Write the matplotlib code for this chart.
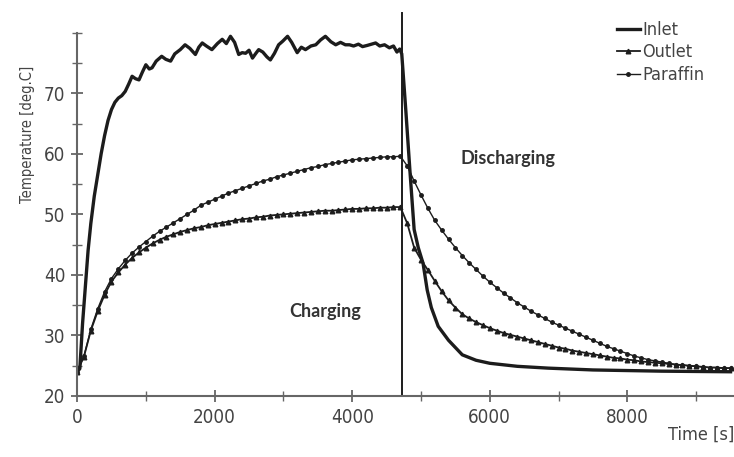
import numpy as np
import matplotlib.pyplot as plt
from matplotlib.ticker import MultipleLocator

# temps de bascule charge / decharge
t_switch = 4720

# entree (inlet) : mesure bruitee
t_inlet = [0, 40, 80, 120, 160, 200, 250, 300, 350, 400, 450, 500, 550, 600, 650,
           700, 750, 800, 850, 900, 950, 1000, 1050, 1090, 1150, 1230, 1290, 1360,
           1420, 1500, 1570, 1640, 1720, 1770, 1820, 1880, 1960, 2040, 2110, 2170,
           2230, 2290, 2350, 2400, 2450, 2500, 2550, 2600, 2640, 2700, 2760, 2810,
           2870, 2930, 2990, 3060, 3120, 3200, 3260, 3320, 3400, 3470, 3540, 3610,
           3690, 3760, 3830, 3900, 3960, 4020, 4090, 4150, 4220, 4280, 4340, 4400,
           4470, 4540, 4600, 4650, 4690, 4720,
           4780, 4840, 4900, 4960, 5030, 5090, 5150, 5250, 5400, 5600, 5800, 6000,
           6400, 6850, 7500, 8500, 9500]
T_inlet = [24.0, 24.5, 32.0, 38.0, 44.0, 48.5, 53.0, 56.5, 60.0, 63.0, 65.5, 67.3,
           68.5, 69.2, 69.6, 70.3, 71.5, 72.8, 72.4, 72.2, 73.5, 74.7, 74.0, 74.2,
           75.3, 76.1, 75.6, 75.3, 76.5, 77.2, 78.0, 77.4, 76.4, 77.6, 78.3, 77.8,
           77.2, 78.2, 78.9, 78.2, 79.4, 78.4, 76.4, 76.7, 76.6, 77.1, 75.8, 76.6,
           77.2, 76.8, 76.0, 75.5, 76.6, 78.0, 78.6, 79.4, 78.4, 76.7, 77.6, 77.2,
           77.8, 78.0, 78.8, 79.4, 78.5, 78.0, 78.4, 78.0, 78.0, 77.8, 78.1, 77.7,
           77.9, 78.1, 78.3, 77.8, 78.0, 77.5, 77.8, 76.8, 77.3, 76.5,
           67.0, 57.0, 47.5, 44.5, 41.9, 37.5, 34.6, 31.5, 29.2, 26.8, 25.9, 25.4,
           24.9, 24.6, 24.3, 24.1, 24.0]

# sonde sortie et paraffine, pas de 100 s
t_probe = [0, 100, 200, 300, 400, 500, 600, 700, 800, 900, 1000, 1100, 1200, 1300,
           1400, 1500, 1600, 1700, 1800, 1900, 2000, 2100, 2200, 2300, 2400, 2500,
           2600, 2700, 2800, 2900, 3000, 3100, 3200, 3300, 3400, 3500, 3600, 3700,
           3800, 3900, 4000, 4100, 4200, 4300, 4400, 4500, 4600, 4700,
           4800, 4900, 5000, 5100, 5200, 5300, 5400, 5500, 5600, 5700, 5800, 5900,
           6000, 6100, 6200, 6300, 6400, 6500, 6600, 6700, 6800, 6900, 7000, 7100,
           7200, 7300, 7400, 7500, 7600, 7700, 7800, 7900, 8000, 8100, 8200, 8300,
           8400, 8500, 8600, 8700, 8800, 8900, 9000, 9100, 9200, 9300, 9400, 9500]
T_outlet = [24.0, 26.5, 30.8, 34.0, 36.7, 38.9, 40.4, 41.7, 42.8, 43.7, 44.5, 45.2,
            45.8, 46.3, 46.7, 47.1, 47.4, 47.7, 47.9, 48.2, 48.4, 48.6, 48.8, 49.0,
            49.2, 49.3, 49.5, 49.6, 49.8, 49.9, 50.0, 50.1, 50.2, 50.3, 50.4, 50.5,
            50.6, 50.6, 50.7, 50.8, 50.9, 50.9, 51.0, 51.0, 51.1, 51.1, 51.2, 51.2,
            48.5, 44.5, 42.5, 40.8, 39.0, 37.3, 35.8, 34.6, 33.5, 32.8, 32.2, 31.7,
            31.2, 30.8, 30.4, 30.1, 29.8, 29.5, 29.2, 28.9, 28.6, 28.3, 28.0, 27.8,
            27.5, 27.3, 27.1, 26.9, 26.7, 26.5, 26.3, 26.2, 26.0, 25.9, 25.7, 25.6,
            25.5, 25.4, 25.3, 25.2, 25.1, 25.0, 24.9, 24.8, 24.7, 24.7, 24.6, 24.6]
T_paraffin = [24.0, 26.6, 31.0, 34.4, 37.2, 39.4, 41.0, 42.4, 43.6, 44.6, 45.5, 46.4,
              47.2, 47.9, 48.6, 49.3, 50.0, 50.7, 51.5, 52.0, 52.5, 53.0, 53.5, 53.9,
              54.3, 54.7, 55.1, 55.5, 55.8, 56.2, 56.5, 56.8, 57.1, 57.4, 57.7, 57.9,
              58.2, 58.4, 58.6, 58.8, 59.0, 59.1, 59.2, 59.3, 59.4, 59.5, 59.5, 59.6,
              58.0, 55.5, 53.2, 51.0, 49.0, 47.4, 45.9, 44.5, 43.2, 42.0, 40.9, 39.8,
              38.8, 37.9, 37.0, 36.2, 35.4, 34.7, 34.0, 33.4, 32.8, 32.2, 31.7, 31.2,
              30.7, 30.2, 29.7, 29.2, 28.7, 28.2, 27.8, 27.4, 27.0, 26.6, 26.3, 26.0,
              25.8, 25.6, 25.4, 25.2, 25.1, 25.0, 24.9, 24.8, 24.7, 24.7, 24.6, 24.6]

narrow = dict(family='DejaVu Sans', stretch='condensed')
grey = '#666666'
ink = '#1c1c1c'
txtc = '#444444'

fig = plt.figure(figsize=(7.34, 4.57), dpi=100)
ax = fig.add_axes([0.105, 0.1335, 0.895, 0.795])

ax.plot(t_inlet, T_inlet, color=ink, lw=2.4, label='Inlet')
ax.plot(t_probe, T_outlet, color=ink, lw=1.3, marker='^', ms=3.3, label='Outlet')
ax.plot(t_probe, T_paraffin, color=ink, lw=1.0, marker='o', ms=2.5, label='Paraffin')
ax.axvline(t_switch, ymin=0, ymax=1.055, color=ink, lw=1.4, clip_on=False)

ax.set_xlim(0, 9550)
ax.set_ylim(20, 80)
ax.set_xticks([0, 2000, 4000, 6000, 8000])
ax.set_yticks([20, 30, 40, 50, 60, 70])
ax.xaxis.set_minor_locator(MultipleLocator(1000))
ax.yaxis.set_minor_locator(MultipleLocator(5))

for s in ['top', 'right']:
    ax.spines[s].set_visible(False)
for s in ['left', 'bottom']:
    ax.spines[s].set_color(grey)
    ax.spines[s].set_linewidth(1.5)

ax.tick_params(which='major', direction='inout', length=9, width=1.3, color=grey,
               labelcolor=txtc, pad=4)
ax.tick_params(which='minor', direction='inout', length=7, width=1.0, color=grey)
for lab in ax.get_xticklabels() + ax.get_yticklabels():
    lab.set(size=13.5, **narrow)

ax.set_ylabel('Temperature [deg.C]', color=txtc, size=10.5, **narrow)
ax.yaxis.set_label_coords(-0.064, 0.72)
ax.text(1.0, -0.082, 'Time [s]', transform=ax.transAxes, ha='right', va='top',
        color=txtc, size=13, **narrow)

ax.text(5580, 59.3, 'Discharging', family='Lato', fontweight='bold', fontsize=13,
        color='#333333', va='center')
ax.text(3080, 34.0, 'Charging', family='Lato', fontweight='bold', fontsize=13,
        color='#333333', va='center')

leg = ax.legend(loc='upper left', bbox_to_anchor=(0.818, 0.99),
                bbox_transform=fig.transFigure, frameon=False,
                handlelength=1.3, handletextpad=0.1, labelspacing=0.25,
                prop=dict(size=13, **narrow))
for txt in leg.get_texts():
    txt.set_color(txtc)

fig.savefig('out.png', dpi=100)
